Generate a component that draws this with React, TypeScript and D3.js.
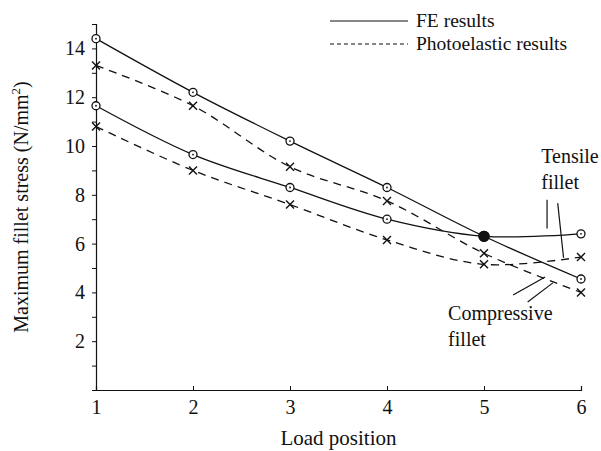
import React from 'react';
import { useRef, useEffect } from 'react';
import * as d3 from 'd3';

// load positions along the tooth
const positions = [1, 2, 3, 4, 5, 6];

// FE results (circles)
const feCompressive = [14.4, 12.2, 10.2, 8.3, 6.3, 4.55];
const feTensile = [11.65, 9.65, 8.3, 7.0, 6.3, 6.4];

// photoelastic results (crosses)
const photoCompressive = [13.3, 11.65, 9.15, 7.75, 5.6, 4.0];
const photoTensile = [10.8, 9.0, 7.6, 6.15, 5.15, 5.45];

const yTickLabels = [2, 4, 6, 8, 10, 12, 14];

export default function App() {
  const svgRef = useRef<SVGSVGElement>(null);

  useEffect(() => {
    const w = 601;
    const h = 451;
    const svg = d3.select(svgRef.current).attr('width', w).attr('height', h);
    svg.selectAll('*').remove();

    const font = '"Liberation Serif", "Times New Roman", serif';
    const x = d3.scaleLinear().domain([1, 6]).range([96, 581]);
    const y = d3.scaleLinear().domain([0, 15]).range([390, 24]);

    // axes
    const yAxis = svg
      .append('g')
      .attr('transform', `translate(${x(1)},0)`)
      .call(
        d3
          .axisLeft(y)
          .tickValues(d3.range(0, 16))
          .tickSize(4)
          .tickFormat((d: any) => (yTickLabels.includes(+d) ? String(d) : ''))
      );
    yAxis.select('.domain').attr('stroke', '#111').attr('stroke-width', 1.2);
    yAxis.selectAll('line').attr('stroke', '#111');
    yAxis
      .selectAll('text')
      .style('font-family', font)
      .style('font-size', '20px')
      .attr('fill', '#111')
      .attr('dx', '-4px');

    const xAxis = svg
      .append('g')
      .attr('transform', `translate(0,${y(0)})`)
      .call(d3.axisBottom(x).tickValues(positions).tickSize(-4).tickFormat(d3.format('d')));
    xAxis.select('.domain').attr('stroke', '#111').attr('stroke-width', 1.2);
    xAxis.selectAll('line').attr('stroke', '#111');
    xAxis
      .selectAll('text')
      .style('font-family', font)
      .style('font-size', '20px')
      .attr('fill', '#111')
      .attr('dy', '1.05em');

    // axis titles
    svg
      .append('text')
      .attr('x', (x(1) + x(6)) / 2)
      .attr('y', 445)
      .attr('text-anchor', 'middle')
      .style('font-family', font)
      .style('font-size', '21px')
      .attr('fill', '#111')
      .text('Load position');

    const yt = svg
      .append('text')
      .attr('transform', `translate(28,${(y(0) + y(15)) / 2}) rotate(-90)`)
      .attr('text-anchor', 'middle')
      .style('font-family', font)
      .style('font-size', '20px')
      .attr('fill', '#111');
    yt.append('tspan').text('Maximum fillet stress (N/mm');
    yt.append('tspan').attr('dy', -8).style('font-size', '13px').text('2');
    yt.append('tspan').attr('dy', 8).text(')');

    // lines
    const line = d3
      .line<number>()
      .x((d, i) => x(positions[i]))
      .y((d) => y(d))
      .curve(d3.curveCatmullRom.alpha(0.5));

    const series = [
      { values: feCompressive, dash: null, mark: 'circle' },
      { values: feTensile, dash: null, mark: 'circle' },
      { values: photoCompressive, dash: '8,6', mark: 'cross' },
      { values: photoTensile, dash: '8,6', mark: 'cross' },
    ];

    series.forEach((s) => {
      svg
        .append('path')
        .datum(s.values)
        .attr('d', line)
        .attr('fill', 'none')
        .attr('stroke', '#111')
        .attr('stroke-width', 1.3)
        .attr('stroke-dasharray', s.dash);

      const g = svg.append('g');
      s.values.forEach((v, i) => {
        const cx = x(positions[i]);
        const cy = y(v);
        if (s.mark === 'circle') {
          const shared = feCompressive[i] === feTensile[i];
          g.append('circle')
            .attr('cx', cx)
            .attr('cy', cy)
            .attr('r', shared ? 5 : 4)
            .attr('fill', shared ? '#111' : 'white')
            .attr('stroke', '#111')
            .attr('stroke-width', 1.3);
          if (!shared) {
            g.append('circle').attr('cx', cx).attr('cy', cy).attr('r', 0.9).attr('fill', '#111');
          }
        } else {
          const r = 4;
          g.append('path')
            .attr('d', `M${cx - r},${cy - r}L${cx + r},${cy + r}M${cx - r},${cy + r}L${cx + r},${cy - r}`)
            .attr('stroke', '#111')
            .attr('stroke-width', 1.4);
        }
      });
    });

    // legend
    const legend = [
      { label: 'FE results', dash: null, y: 21 },
      { label: 'Photoelastic results', dash: '4,3', y: 44 },
    ];
    legend.forEach((l) => {
      svg
        .append('line')
        .attr('x1', 330)
        .attr('x2', 408)
        .attr('y1', l.y)
        .attr('y2', l.y)
        .attr('stroke', '#111')
        .attr('stroke-width', 1.2)
        .attr('stroke-dasharray', l.dash);
      svg
        .append('text')
        .attr('x', 416)
        .attr('y', l.y + 6)
        .style('font-family', font)
        .style('font-size', '19.5px')
        .attr('fill', '#111')
        .text(l.label);
    });

    // annotations (data coordinates)
    const leaders = [
      [5.65, 7.8, 5.65, 6.62],
      [5.76, 7.66, 5.82, 5.42],
      [5.3, 3.89, 5.63, 4.63],
      [5.45, 3.61, 5.71, 4.39],
    ];
    leaders.forEach(([x1, y1, x2, y2]) => {
      svg
        .append('line')
        .attr('x1', x(x1))
        .attr('y1', y(y1))
        .attr('x2', x(x2))
        .attr('y2', y(y2))
        .attr('stroke', '#111')
        .attr('stroke-width', 1.2);
    });

    const notes = [
      { lines: ['Tensile', 'fillet'], x: 5.59, y: 9.3 },
      { lines: ['Compressive', 'fillet'], x: 4.63, y: 2.85 },
    ];
    notes.forEach((n) => {
      n.lines.forEach((t, i) => {
        svg
          .append('text')
          .attr('x', x(n.x))
          .attr('y', y(n.y) + i * 26)
          .style('font-family', font)
          .style('font-size', '20px')
          .attr('fill', '#111')
          .text(t);
      });
    });
  }, []);

  return (
    <svg
      ref={svgRef}
      style={{ position: 'absolute', left: 0, top: 0, background: 'white' }}
    ></svg>
  );
}
